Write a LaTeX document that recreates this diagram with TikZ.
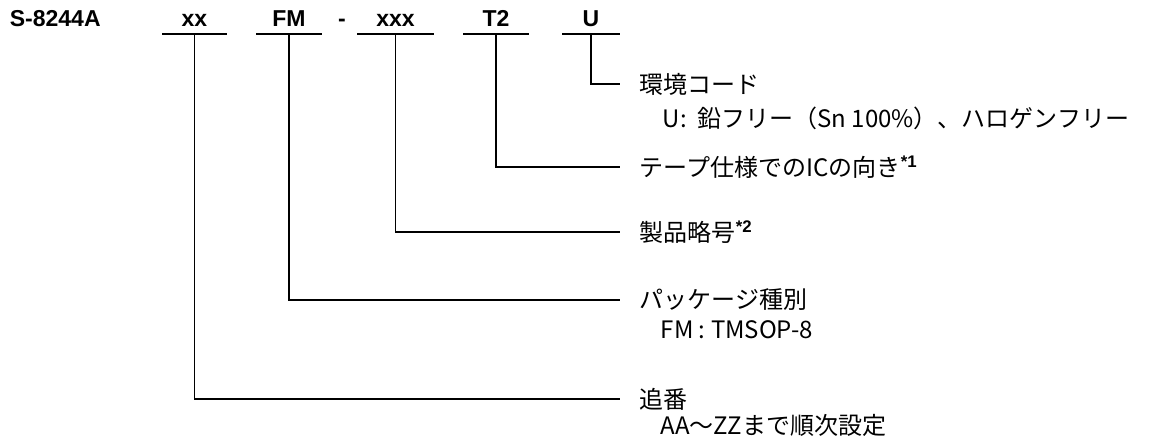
\documentclass[tikz,border=0pt]{standalone}
\usepackage{fontspec}
\setmainfont{Noto Sans CJK JP}
\newfontfamily\lat{Liberation Sans}
\begin{document}
\begin{tikzpicture}[x=1pt,y=-1pt,line width=1.7pt,
	code/.style={font=\lat\bfseries\fontsize{23}{23}\selectfont,inner sep=0pt,anchor=base},
	desc/.style={font=\fontsize{24}{24}\selectfont,inner xsep=19pt,inner ysep=0pt,anchor=west},
	sub/.style={font=\fontsize{24}{24}\selectfont,inner sep=0pt,anchor=west}]
	\useasboundingbox (0,0) rectangle (1156,446);
	% dong ma san pham
	\node[code,anchor=base west] (pS) at (9,27) {S-8244A};
	\node[code,minimum width=63pt] (pxx) at (194.5,27) {xx};
	\node[code,minimum width=64pt] (pFM) at (289,27) {FM};
	\node[code] (pdash) at (342,27) {-};
	\node[code,minimum width=75pt] (pxxx) at (395.5,27) {xxx};
	\node[code,minimum width=64pt] (pT2) at (496,27) {T2};
	\node[code,minimum width=56pt] (pU) at (591,27) {U};
	\foreach \n in {xx,FM,xxx,T2,U}
		\draw ([yshift=-7pt]p\n.base west) -- ([yshift=-7pt]p\n.base east);
	% giai thich
	\node[desc] (dU) at (620,84) {環境コード};
	\node[sub] (sU) at (662,118) {U:~~鉛フリー（Sn 100\%）、ハロゲンフリー};
	\node[desc] (dT2) at (620,167) {テープ仕様でのICの向き\textsuperscript{\lat\bfseries *1}};
	\node[desc] (dxxx) at (620,232) {製品略号\textsuperscript{\lat\bfseries *2}};
	\node[desc] (dFM) at (620,300) {パッケージ種別};
	\node[sub] (sFM) at (660,330) {FM : TMSOP-8};
	\node[desc] (dxx) at (620,399) {追番};
	\node[sub] (sxx) at (660,425) {AA～ZZまで順次設定};
	\foreach \n in {U,T2,xxx,FM,xx}
		\draw ([yshift=-7pt]p\n.base) |- (d\n.west);
\end{tikzpicture}
\end{document}
